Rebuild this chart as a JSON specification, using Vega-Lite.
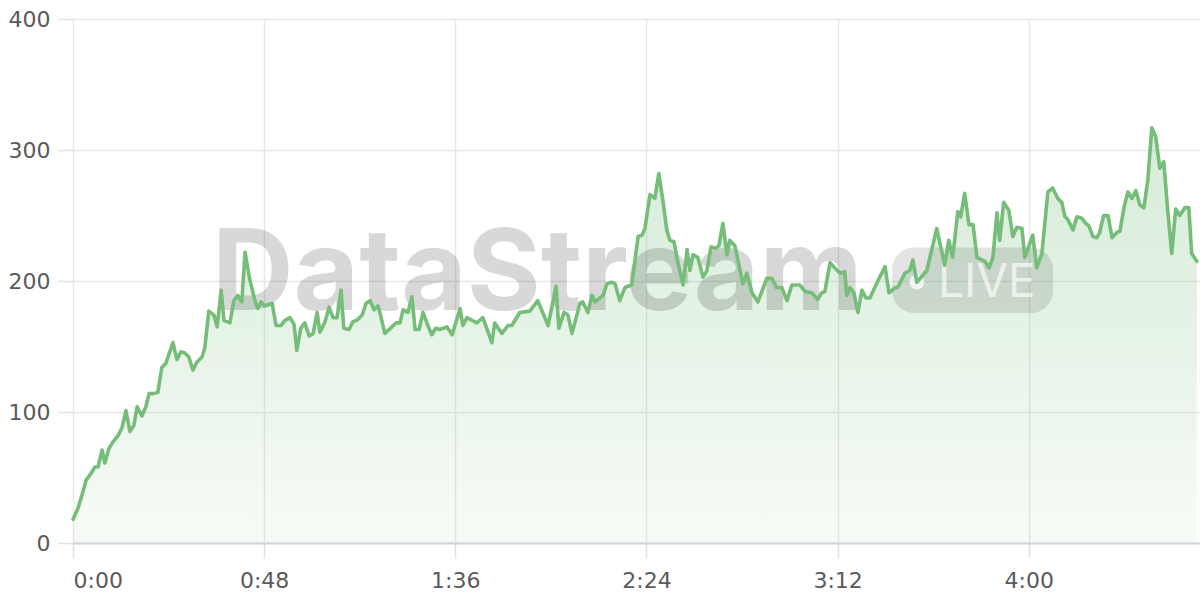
{
  "$schema": "https://vega.github.io/schema/vega-lite/v6.json",
  "width": 1127,
  "height": 524,
  "autosize": {"type": "none"},
  "padding": {"left": 73, "top": 19, "right": 0, "bottom": 57},
  "background": "#ffffff",
  "config": {
    "view": {"stroke": null},
    "axis": {
      "labelFont": "DejaVu Sans",
      "labelFontSize": 22,
      "labelColor": "#5a5a5a",
      "gridColor": "#e8e8e8",
      "gridWidth": 1.5,
      "tickColor": "#e2e2e2",
      "tickWidth": 1.5,
      "tickSize": 15,
      "title": null
    }
  },
  "data": {"values": [
    {"t":0,"v":18},{"t":1.3,"v":27},{"t":2.3,"v":37},{"t":3.3,"v":48},{"t":4.5,"v":53},{"t":5.5,"v":58},{"t":6.3,"v":58},{"t":7.3,"v":71},{"t":8.0,"v":61},{"t":9.0,"v":72},
    {"t":10.0,"v":77},{"t":11.3,"v":82},{"t":12.3,"v":88},{"t":13.3,"v":101},{"t":14.3,"v":85},{"t":15.3,"v":90},{"t":16.1,"v":104},{"t":17.3,"v":97},{"t":18.3,"v":104},{"t":19.1,"v":114},
    {"t":20.3,"v":114},{"t":21.3,"v":115},{"t":22.3,"v":134},{"t":23.3,"v":137},{"t":25.1,"v":153},{"t":26.1,"v":140},{"t":27.1,"v":146},{"t":28.1,"v":145},{"t":29.1,"v":142},{"t":30.1,"v":132},
    {"t":31.1,"v":138},{"t":32.4,"v":142},{"t":33.1,"v":149},{"t":34.1,"v":177},{"t":35.4,"v":174},{"t":36.2,"v":165},{"t":37.2,"v":193},{"t":37.9,"v":170},{"t":39.4,"v":168},{"t":40.4,"v":185},
    {"t":41.4,"v":189},{"t":42.4,"v":184},{"t":43.2,"v":222},{"t":44.4,"v":201},{"t":45.7,"v":185},{"t":46.4,"v":179},{"t":47.2,"v":184},{"t":48.2,"v":181},{"t":50.0,"v":183},{"t":51.0,"v":166},
    {"t":52.2,"v":166},{"t":53.2,"v":170},{"t":54.5,"v":172},{"t":55.5,"v":167},{"t":56.2,"v":147},{"t":57.2,"v":164},{"t":58.2,"v":168},{"t":59.3,"v":158},{"t":60.3,"v":160},{"t":61.3,"v":176},
    {"t":62.0,"v":161},{"t":63.3,"v":169},{"t":64.3,"v":180},{"t":65.3,"v":172},{"t":66.3,"v":172},{"t":67.3,"v":193},{"t":68.0,"v":164},{"t":69.3,"v":163},{"t":70.3,"v":169},{"t":71.3,"v":170},
    {"t":72.6,"v":174},{"t":73.6,"v":183},{"t":74.6,"v":185},{"t":75.6,"v":178},{"t":76.6,"v":181},{"t":77.3,"v":173},{"t":78.3,"v":160},{"t":80.1,"v":165},{"t":81.1,"v":168},{"t":82.1,"v":168},
    {"t":82.9,"v":178},{"t":84.1,"v":176},{"t":85.1,"v":188},{"t":85.9,"v":163},{"t":86.9,"v":163},{"t":87.9,"v":176},{"t":89.1,"v":166},{"t":90.1,"v":159},{"t":91.1,"v":164},{"t":92.1,"v":163},
    {"t":93.9,"v":165},{"t":95.2,"v":159},{"t":97.2,"v":179},{"t":97.9,"v":166},{"t":98.9,"v":172},{"t":101.4,"v":168},{"t":102.9,"v":172},{"t":105.2,"v":153},{"t":105.9,"v":168},{"t":107.7,"v":160},
    {"t":109.2,"v":166},{"t":110.2,"v":166},{"t":112.2,"v":176},{"t":114.7,"v":177},{"t":116.7,"v":185},{"t":119.3,"v":166},{"t":121.3,"v":196},{"t":122.0,"v":164},{"t":123.3,"v":176},{"t":124.3,"v":174},
    {"t":125.3,"v":160},{"t":127.3,"v":183},{"t":128.0,"v":184},{"t":129.3,"v":176},{"t":130.3,"v":189},{"t":131.1,"v":184},{"t":133.1,"v":189},{"t":134.1,"v":198},{"t":135.3,"v":199},{"t":136.1,"v":198},
    {"t":137.3,"v":185},{"t":138.6,"v":195},{"t":140.3,"v":197},{"t":141.9,"v":234},{"t":142.9,"v":235},{"t":143.6,"v":240},{"t":144.9,"v":266},{"t":146.1,"v":263},{"t":147.1,"v":282},{"t":148.1,"v":262},
    {"t":149.1,"v":239},{"t":149.9,"v":231},{"t":150.9,"v":230},{"t":151.9,"v":214},{"t":153.2,"v":197},{"t":154.2,"v":224},{"t":154.9,"v":208},{"t":155.7,"v":220},{"t":156.9,"v":218},{"t":158.2,"v":203},
    {"t":159.2,"v":208},{"t":160.2,"v":226},{"t":161.4,"v":225},{"t":162.2,"v":227},{"t":163.2,"v":244},{"t":164.2,"v":220},{"t":164.9,"v":231},{"t":166.2,"v":227},{"t":168.2,"v":198},{"t":169.2,"v":206},
    {"t":170.5,"v":191},{"t":172.0,"v":184},{"t":174.2,"v":202},{"t":175.5,"v":202},{"t":176.7,"v":195},{"t":178.0,"v":195},{"t":179.3,"v":185},{"t":180.5,"v":197},{"t":182.5,"v":197},{"t":183.8,"v":192},
    {"t":185.5,"v":191},{"t":187.0,"v":186},{"t":188.0,"v":191},{"t":188.8,"v":192},{"t":190.1,"v":214},{"t":191.3,"v":210},{"t":192.6,"v":206},{"t":193.8,"v":207},{"t":194.3,"v":189},{"t":195.1,"v":195},
    {"t":196.1,"v":191},{"t":197.1,"v":176},{"t":198.1,"v":193},{"t":199.1,"v":187},{"t":200.1,"v":187},{"t":202.1,"v":200},{"t":203.9,"v":211},{"t":204.9,"v":191},{"t":206.4,"v":195},{"t":207.1,"v":195},
    {"t":208.9,"v":206},{"t":210.1,"v":208},{"t":210.9,"v":216},{"t":211.9,"v":199},{"t":214.4,"v":208},{"t":216.9,"v":240},{"t":218.9,"v":212},{"t":219.9,"v":231},{"t":220.9,"v":218},{"t":222.2,"v":253},
    {"t":222.9,"v":249},{"t":223.9,"v":267},{"t":225.0,"v":243},{"t":226.0,"v":243},{"t":227.0,"v":218},{"t":229.0,"v":215},{"t":230.0,"v":210},{"t":231.0,"v":218},{"t":232.0,"v":252},{"t":232.7,"v":231},
    {"t":233.7,"v":260},{"t":235.0,"v":254},{"t":236.0,"v":234},{"t":237.0,"v":241},{"t":238.3,"v":240},{"t":239.0,"v":218},{"t":241.0,"v":235},{"t":242.0,"v":210},{"t":243.3,"v":221},{"t":244.8,"v":268},
    {"t":246.0,"v":271},{"t":247.3,"v":263},{"t":248.3,"v":260},{"t":249.1,"v":249},{"t":249.8,"v":247},{"t":251.1,"v":239},{"t":252.1,"v":249},{"t":253.3,"v":248},{"t":254.3,"v":244},{"t":255.1,"v":242},
    {"t":256.1,"v":234},{"t":257.1,"v":233},{"t":257.8,"v":237},{"t":258.8,"v":250},{"t":259.9,"v":250},{"t":260.9,"v":233},{"t":262.1,"v":237},{"t":262.9,"v":238},{"t":263.9,"v":256},{"t":264.9,"v":268},
    {"t":265.9,"v":263},{"t":266.9,"v":269},{"t":267.9,"v":258},{"t":268.9,"v":256},{"t":269.9,"v":277},{"t":270.9,"v":317},{"t":271.9,"v":310},{"t":272.9,"v":286},{"t":273.9,"v":291},{"t":274.9,"v":254},
    {"t":275.9,"v":221},{"t":276.9,"v":255},{"t":277.9,"v":250},{"t":279.2,"v":256},{"t":280.2,"v":256},{"t":280.9,"v":221},{"t":282.2,"v":215}
  ]},
  "layer": [
    {
      "mark": {
        "type": "area",
        "color": {
          "gradient": "linear", "x1": 0, "y1": 0, "x2": 0, "y2": 1,
          "stops": [
            {"offset": 0, "color": "rgba(117,189,121,0.30)"},
            {"offset": 1, "color": "rgba(117,189,121,0.06)"}
          ]
        }
      },
      "encoding": {
        "x": {
          "field": "t", "type": "quantitative",
          "scale": {"domain": [0, 283], "nice": false, "zero": false},
          "axis": {
            "values": [0, 48, 96, 144, 192, 240],
            "labelExpr": "floor(datum.value/60) + ':' + (datum.value % 60 < 10 ? '0' : '') + (datum.value % 60)",
            "domainColor": "#d4d4d4",
            "domainWidth": 2,
            "labelPadding": 12,
            "grid": true
          }
        },
        "y": {
          "field": "v", "type": "quantitative",
          "scale": {"domain": [0, 400], "nice": false},
          "axis": {
            "values": [0, 100, 200, 300, 400],
            "domain": false,
            "labelPadding": 8,
            "grid": true
          }
        }
      }
    },
    {
      "data": {"values": [{"label": "DataStream"}]},
      "mark": {"type": "text", "font": "Inter", "fontWeight": "bold", "fontSize": 113, "align": "left", "baseline": "alphabetic", "color": "#000000", "opacity": 0.15},
      "encoding": {
        "x": {"datum": 34.9, "type": "quantitative"},
        "y": {"datum": 178, "type": "quantitative"},
        "text": {"field": "label"}
      }
    },
    {
      "data": {"values": [{"label": "pill"}]},
      "mark": {"type": "rect", "cornerRadius": 22, "color": "#000000", "opacity": 0.11},
      "encoding": {
        "x": {"datum": 205.7, "type": "quantitative"},
        "x2": {"datum": 246.1},
        "y": {"datum": 225.5, "type": "quantitative"},
        "y2": {"datum": 175.5}
      }
    },
    {
      "data": {"values": [{"label": "dot"}]},
      "mark": {"type": "point", "filled": true, "shape": "circle", "size": 220, "fill": "#ffffff", "stroke": null, "opacity": 0.75},
      "encoding": {
        "x": {"datum": 211.9, "type": "quantitative"},
        "y": {"datum": 199.2, "type": "quantitative"}
      }
    },
    {
      "data": {"values": [{"label": "LIVE"}]},
      "mark": {"type": "text", "font": "Inter", "fontWeight": "normal", "fontSize": 46, "align": "left", "baseline": "alphabetic", "color": "#ffffff", "opacity": 0.65},
      "encoding": {
        "x": {"datum": 217.2, "type": "quantitative"},
        "y": {"datum": 187.8, "type": "quantitative"},
        "text": {"field": "label"}
      }
    },
    {
      "mark": {"type": "line", "color": "#75bd79", "strokeWidth": 3.6, "strokeJoin": "round", "strokeCap": "round"},
      "encoding": {
        "x": {"field": "t", "type": "quantitative"},
        "y": {"field": "v", "type": "quantitative"}
      }
    }
  ]
}
